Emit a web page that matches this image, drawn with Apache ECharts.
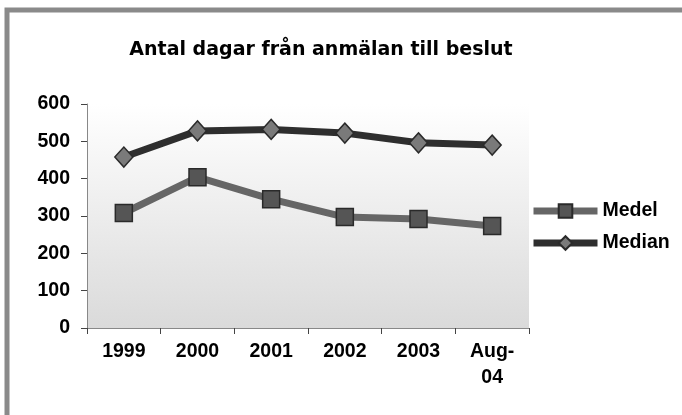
<!DOCTYPE html>
<html>
<head>
<meta charset="utf-8">
<script src="https://cdn.jsdelivr.net/npm/echarts@6/dist/echarts.min.js"></script>
<style>
  html, body { margin: 0; padding: 0; background: #fff; }
  #chart { width: 682px; height: 415px; }
</style>
</head>
<body>
<div id="chart"></div>
<script>
const categories = ['1999', '2000', '2001', '2002', '2003', 'Aug-\n04']
const medel = [308, 404, 345, 297, 292, 273]
const median = [458, 528, 532, 522, 496, 490]

const chart = echarts.init(document.getElementById('chart'))
const font = 'Liberation Sans, Arial, sans-serif'

chart.setOption({
  animation: false,
  title: {
    text: 'Antal dagar från anmälan till beslut',
    left: 316,
    textAlign: 'center',
    top: 36,
    textStyle: { fontFamily: 'DejaVu Sans', fontSize: 19, fontWeight: 'bold', color: '#000' }
  },
  graphic: [
    { type: 'rect', shape: { x: 7, y: 10, width: 700, height: 420 }, style: { fill: 'none', stroke: '#8a8a8a', lineWidth: 5 } }
  ],
  grid: {
    left: 87, right: 153, top: 104, bottom: 87,
    show: true,
    borderWidth: 0,
    backgroundColor: new echarts.graphic.LinearGradient(0, 0, 0, 1, [
      { offset: 0, color: '#ffffff' },
      { offset: 1, color: '#dadada' }
    ])
  },
  legend: {
    left: 529, top: 195,
    orient: 'vertical',
    itemWidth: 64, itemHeight: 17, itemGap: 12,
    backgroundColor: '#fff',
    padding: [6, 10, 6, 1],
    textStyle: { fontFamily: font, fontSize: 19.5, fontWeight: 'bold', color: '#000' },
    data: [
      { name: 'Medel', lineStyle: { color: '#666', width: 7 } },
      { name: 'Median', lineStyle: { color: '#2e2e2e', width: 7 } }
    ]
  },
  xAxis: {
    type: 'category',
    data: categories,
    boundaryGap: true,
    axisLine: { lineStyle: { color: '#888', width: 1 } },
    axisTick: { show: true, length: 6, lineStyle: { color: '#444' } },
    axisLabel: { fontFamily: font, fontSize: 19.5, fontWeight: 'bold', color: '#000', margin: 11, lineHeight: 26 }
  },
  yAxis: {
    type: 'value',
    min: 0, max: 600, interval: 100,
    axisLine: { show: true, lineStyle: { color: '#888' } },
    axisTick: { show: true, length: 6, lineStyle: { color: '#444' } },
    splitLine: { show: false },
    axisLabel: { fontFamily: font, fontSize: 19.5, fontWeight: 'bold', color: '#000', margin: 17 }
  },
  series: [
    {
      name: 'Medel',
      type: 'line',
      data: medel,
      symbol: 'rect',
      symbolSize: 17,
      lineStyle: { color: '#666', width: 7 },
      itemStyle: { color: '#555', borderColor: '#2a2a2a', borderWidth: 1.5 }
    },
    {
      name: 'Median',
      type: 'line',
      data: median,
      symbol: 'diamond',
      symbolSize: [18, 20],
      lineStyle: { color: '#2e2e2e', width: 7 },
      itemStyle: { color: '#7a7a7a', borderColor: '#2a2a2a', borderWidth: 1.5 }
    }
  ]
})
</script>
</body>
</html>
